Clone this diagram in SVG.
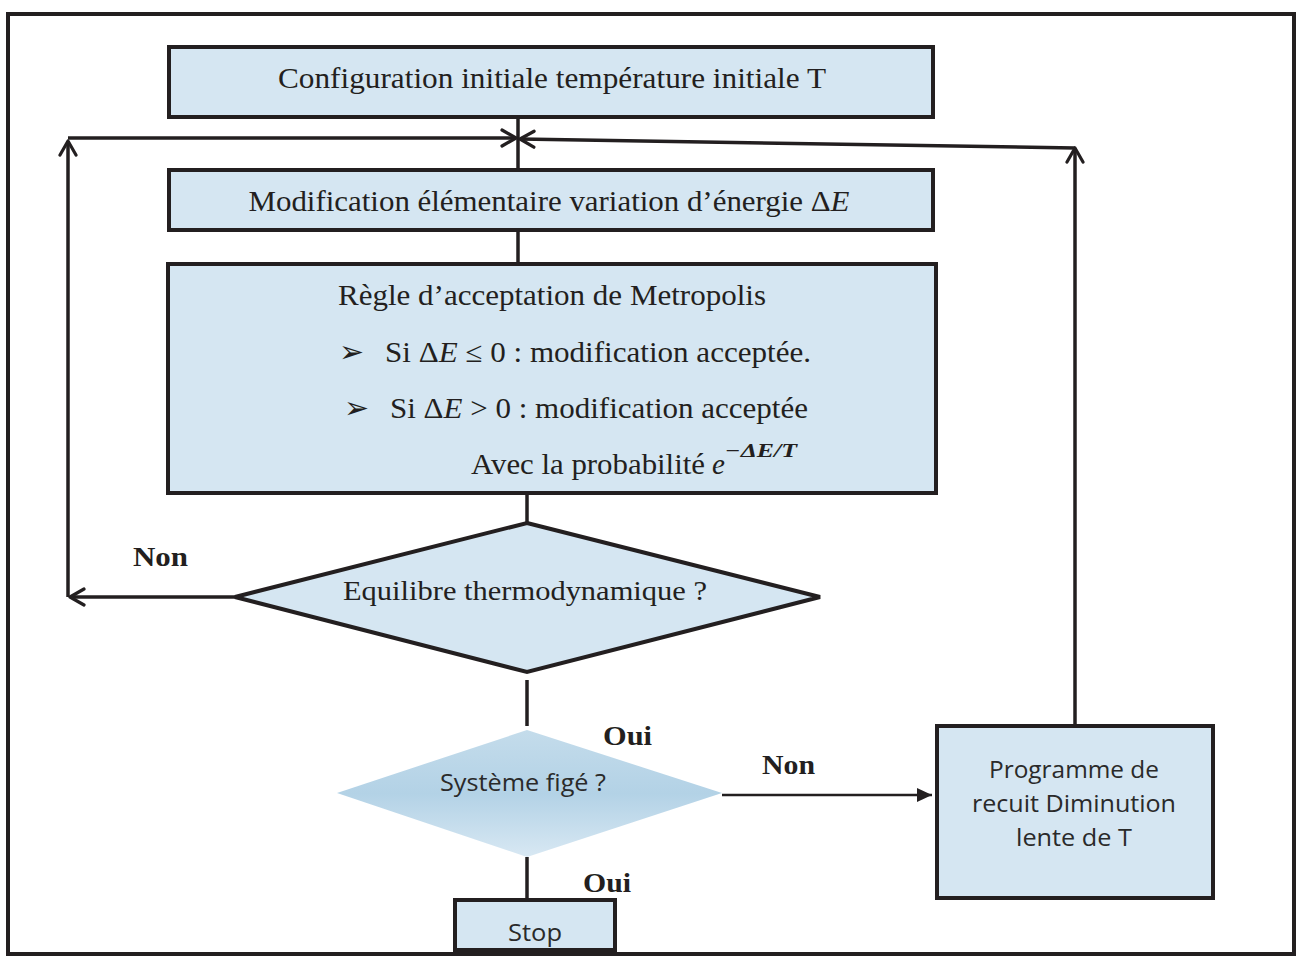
<svg xmlns="http://www.w3.org/2000/svg" width="1302" height="956" viewBox="0 0 1302 956">
<defs>
<marker id="open" viewBox="0 0 20 20" refX="17" refY="10" markerWidth="20" markerHeight="20" markerUnits="userSpaceOnUse" orient="auto">
<path d="M3,2 L17,10 L3,18" fill="none" stroke="#231f20" stroke-width="3.2" stroke-linecap="round" stroke-linejoin="round"/>
</marker>
<marker id="filled" viewBox="0 0 16 16" refX="15" refY="8" markerWidth="16" markerHeight="16" markerUnits="userSpaceOnUse" orient="auto">
<path d="M0,1 L15,8 L0,15 Z" fill="#231f20"/>
</marker>
<linearGradient id="dg" x1="0" y1="0" x2="0" y2="1">
<stop offset="0" stop-color="#c4dceb"/>
<stop offset="0.5" stop-color="#b3d2e6"/>
<stop offset="1" stop-color="#d8e8f3"/>
</linearGradient>
</defs>
<style>
.box{fill:#d5e6f2;stroke:#231f20;stroke-width:4}
.ln{fill:none;stroke:#231f20;stroke-width:3.5}
.ser{font-family:"Liberation Serif","Times New Roman",serif;fill:#231f20}
.sans{font-family:"Open Sans","Liberation Sans",sans-serif;fill:#2a2a2a}
.lbl{font-family:"Liberation Serif","Times New Roman",serif;font-weight:bold;font-size:28px;fill:#231f20}
.bul{font-family:"DejaVu Sans",sans-serif;font-size:30px;fill:#231f20}
</style>
<rect x="0" y="0" width="1302" height="956" fill="#ffffff"/>
<rect x="8" y="14" width="1286" height="940" fill="#ffffff" stroke="#231f20" stroke-width="4"/>

<g id="connectors">
<line class="ln" x1="518" y1="117" x2="518" y2="170"/>
<line class="ln" x1="68" y1="597" x2="68" y2="141" marker-end="url(#open)"/>
<line class="ln" x1="68" y1="138" x2="516" y2="138" marker-end="url(#open)"/>
<line class="ln" x1="1075" y1="726" x2="1075" y2="148" marker-end="url(#open)"/>
<line class="ln" x1="1075" y1="148" x2="520" y2="139" marker-end="url(#open)"/>
<line class="ln" x1="518" y1="230" x2="518" y2="264"/>
<line class="ln" x1="527" y1="493" x2="527" y2="523"/>
<line class="ln" x1="236" y1="597" x2="70" y2="597" marker-end="url(#open)"/>
<line class="ln" x1="527" y1="680" x2="527" y2="726"/>
<line x1="722" y1="795" x2="932" y2="795" stroke="#231f20" stroke-width="2.5" marker-end="url(#filled)"/>
<line class="ln" x1="527" y1="857" x2="527" y2="900"/>
<text class="lbl" x="133" y="566" textLength="55" lengthAdjust="spacingAndGlyphs">Non</text>
<text class="lbl" x="603" y="745" textLength="49" lengthAdjust="spacingAndGlyphs">Oui</text>
<text class="lbl" x="762" y="774" textLength="53" lengthAdjust="spacingAndGlyphs">Non</text>
<text class="lbl" x="583" y="892" textLength="48" lengthAdjust="spacingAndGlyphs">Oui</text>
</g>

<g id="init">
<rect class="box" x="169" y="47" width="764" height="70"/>
<text class="ser" x="552" y="88" font-size="30" text-anchor="middle" textLength="548" lengthAdjust="spacingAndGlyphs">Configuration initiale température initiale T</text>
</g>

<g id="modif">
<rect class="box" x="169" y="170" width="764" height="60"/>
<text class="ser" x="549" y="211" font-size="30" text-anchor="middle" textLength="601" lengthAdjust="spacingAndGlyphs">Modification élémentaire variation d’énergie Δ<tspan font-style="italic">E</tspan></text>
</g>

<g id="metropolis">
<rect class="box" x="168" y="264" width="768" height="229"/>
<text class="ser" x="338" y="305" font-size="29" textLength="428" lengthAdjust="spacingAndGlyphs">Règle d’acceptation de Metropolis</text>
<text class="bul" x="339" y="362">➢</text>
<text class="ser" x="385" y="362" font-size="29" textLength="426" lengthAdjust="spacingAndGlyphs">Si Δ<tspan font-style="italic">E</tspan> ≤ 0 : modification acceptée.</text>
<text class="bul" x="344" y="418">➢</text>
<text class="ser" x="390" y="418" font-size="29" textLength="418" lengthAdjust="spacingAndGlyphs">Si Δ<tspan font-style="italic">E</tspan> &gt; 0 : modification acceptée</text>
<text class="ser" x="471" y="474" font-size="29" textLength="234" lengthAdjust="spacingAndGlyphs">Avec la probabilité</text>
<text class="ser" x="712" y="474" font-size="29" font-style="italic">e</text>
<text class="ser" x="725" y="457" font-size="19" font-style="italic" font-weight="bold" textLength="72" lengthAdjust="spacingAndGlyphs">−ΔE/T</text>
</g>

<g id="equilibre">
<polygon points="527,523 820,597 527,672 235,597" fill="#d5e6f2" stroke="#231f20" stroke-width="4" stroke-linejoin="miter"/>
<text class="ser" x="525" y="600" font-size="28" text-anchor="middle" textLength="364" lengthAdjust="spacingAndGlyphs">Equilibre thermodynamique ?</text>
</g>

<g id="fige">
<polygon points="527,730 722,793 527,857 337,793" fill="url(#dg)"/>
<text class="sans" x="523" y="791" font-size="23" text-anchor="middle" textLength="166" lengthAdjust="spacingAndGlyphs">Système figé ?</text>
</g>

<g id="recuit">
<rect class="box" x="937" y="726" width="276" height="172"/>
<text class="sans" x="1074" y="778" font-size="24" text-anchor="middle" textLength="170" lengthAdjust="spacingAndGlyphs">Programme de</text>
<text class="sans" x="1074" y="812" font-size="24" text-anchor="middle" textLength="204" lengthAdjust="spacingAndGlyphs">recuit Diminution</text>
<text class="sans" x="1074" y="846" font-size="24" text-anchor="middle" textLength="116" lengthAdjust="spacingAndGlyphs">lente de T</text>
</g>

<g id="stop">
<rect class="box" x="455" y="900" width="160" height="50"/>
<text class="sans" x="535" y="941" font-size="23" text-anchor="middle" textLength="54" lengthAdjust="spacingAndGlyphs">Stop</text>
</g>
</svg>
